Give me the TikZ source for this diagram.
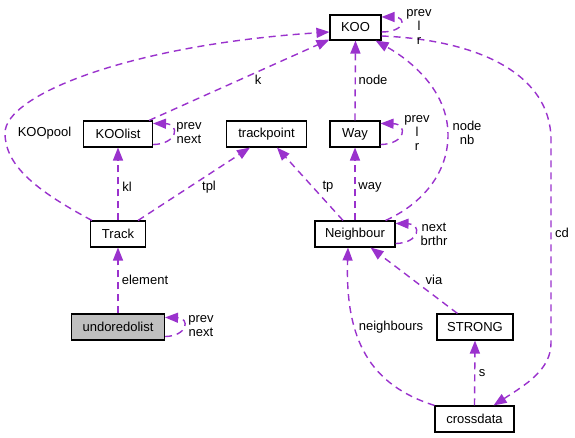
\documentclass[tikz,border=0pt]{standalone}
\usepackage{fontspec}
\setmainfont{Liberation Sans}
\usetikzlibrary{arrows.meta}
\definecolor{edgec}{RGB}{154,50,205}
\definecolor{grayfill}{RGB}{191,191,191}
\begin{document}
\begin{tikzpicture}[x=1pt,y=-1pt,
  cls/.style={draw=black,line width=1.1pt,fill=white,inner sep=0pt,minimum height=26pt,font=\fontsize{13}{15}\selectfont},
  rel/.style={draw=edgec,line width=1.4pt,dash pattern=on 7pt off 5pt,-{Triangle[length=13pt,width=10pt]}},
  lbl/.style={inner sep=0pt,font=\fontsize{13}{14}\selectfont,align=center}]
\fill[white] (0,0) rectangle (575,438);
\useasboundingbox (0,0) rectangle (575,438);
% classes
\node[cls,minimum width=51pt,minimum height=25pt] (KOO) at (355.5,27.5) {KOO};
\node[cls,minimum width=69pt] (KOOlist) at (118,134) {KOOlist};
\node[cls,minimum width=80pt] (trackpoint) at (266.5,134) {trackpoint};
\node[cls,minimum width=50pt] (Way) at (355,134) {Way};
\node[cls,minimum width=55pt] (Track) at (118,234) {Track};
\node[cls,minimum width=93pt,fill=grayfill] (undo) at (118,327) {undoredolist};
\node[cls,minimum width=80pt] (Neighbour) at (355,234) {Neighbour};
\node[cls,minimum width=76pt] (STRONG) at (475,327) {STRONG};
\node[cls,minimum width=79pt] (crossdata) at (474.5,419) {crossdata};
% relations
\draw[rel] ([xshift=2pt]Track.north west) .. controls (35,190) and (5,165) .. (5,133) .. controls (5,95) and (130,45) .. ([yshift=-4.5pt]KOO.west);
\draw[rel] ([xshift=-4pt]KOOlist.north east) -- ([yshift=1pt]KOO.south west);
\draw[rel] ([yshift=-8.5pt]KOO.east) .. controls (480,40) and (551,75) .. (551,140) -- (551,343) .. controls (551,370) and (525,385) .. ([xshift=-21pt]crossdata.north east);
\draw[rel] (Way.north) -- (KOO.south);
\draw[rel] ([xshift=-10pt]Neighbour.north east) .. controls (420,205) and (448,175) .. (448,135) .. controls (448,90) and (410,60) .. ([xshift=-6pt]KOO.south east);
\draw[rel] (Track.north) -- (KOOlist.south);
\draw[rel] ([xshift=-8pt]Track.north east) -- ([xshift=-16.5pt]trackpoint.south);
\draw[rel] ([xshift=-12pt]Neighbour.north) -- ([xshift=10.5pt]trackpoint.south);
\draw[rel] (Neighbour.north) -- (Way.south);
\draw[rel] (undo.north) -- (Track.south);
\draw[rel] ([xshift=21pt]STRONG.north west) -- ([xshift=-25pt]Neighbour.south east);
\draw[rel] (crossdata.north west) .. controls (370,385) and (345,340) .. ([xshift=-7pt]Neighbour.south);
\draw[rel] (crossdata.north) -- (STRONG.south);
% self loops
\draw[rel] ([yshift=-4.5pt]KOO.east) .. controls (405,32) and (407,17) .. ([yshift=10.5pt]KOO.east);
\draw[rel] ([yshift=3pt]KOOlist.south east) .. controls (178,144) and (180,124) .. ([yshift=-3pt]KOOlist.north east);
\draw[rel] ([yshift=3pt]Way.south east) .. controls (406,144) and (408,124) .. ([yshift=-3pt]Way.north east);
\draw[rel] ([yshift=4pt]undo.south east) .. controls (188,336) and (190,318) .. ([yshift=-4pt]undo.north east);
\draw[rel] ([yshift=4pt]Neighbour.south east) .. controls (420,243) and (422,224) .. ([yshift=-3pt]Neighbour.north east);
% labels
\node[lbl] (lKOOpool) at (44.5,133) {KOOpool};
\node[lbl] (lk) at (258,80) {k};
\node[lbl] (lnode) at (373,80) {node};
\node[lbl] (lnodenb) at (467,133) {node\\nb};
\node[lbl] (lcd) at (562,233) {cd};
\node[lbl] (lKOOloop) at (419,27) {prev\\l\\r};
\node[lbl] (lKOOlistloop) at (189,133) {prev\\next};
\node[lbl] (lWayloop) at (417,133) {prev\\l\\r};
\node[lbl] (lkl) at (127,187) {kl};
\node[lbl] (ltpl) at (209,187) {tpl};
\node[lbl] (ltp) at (328,187) {tp};
\node[lbl] (lway) at (370,187) {way};
\node[lbl] (lnb) at (434,234) {next\\brthr};
\node[lbl] (lelement) at (145,280) {element};
\node[lbl] (lvia) at (434,280) {via};
\node[lbl] (lundo) at (201,326) {prev\\next};
\node[lbl] (lneigh) at (391,327) {neighbours};
\node[lbl] (ls) at (482,373) {s};
\end{tikzpicture}
\end{document}
